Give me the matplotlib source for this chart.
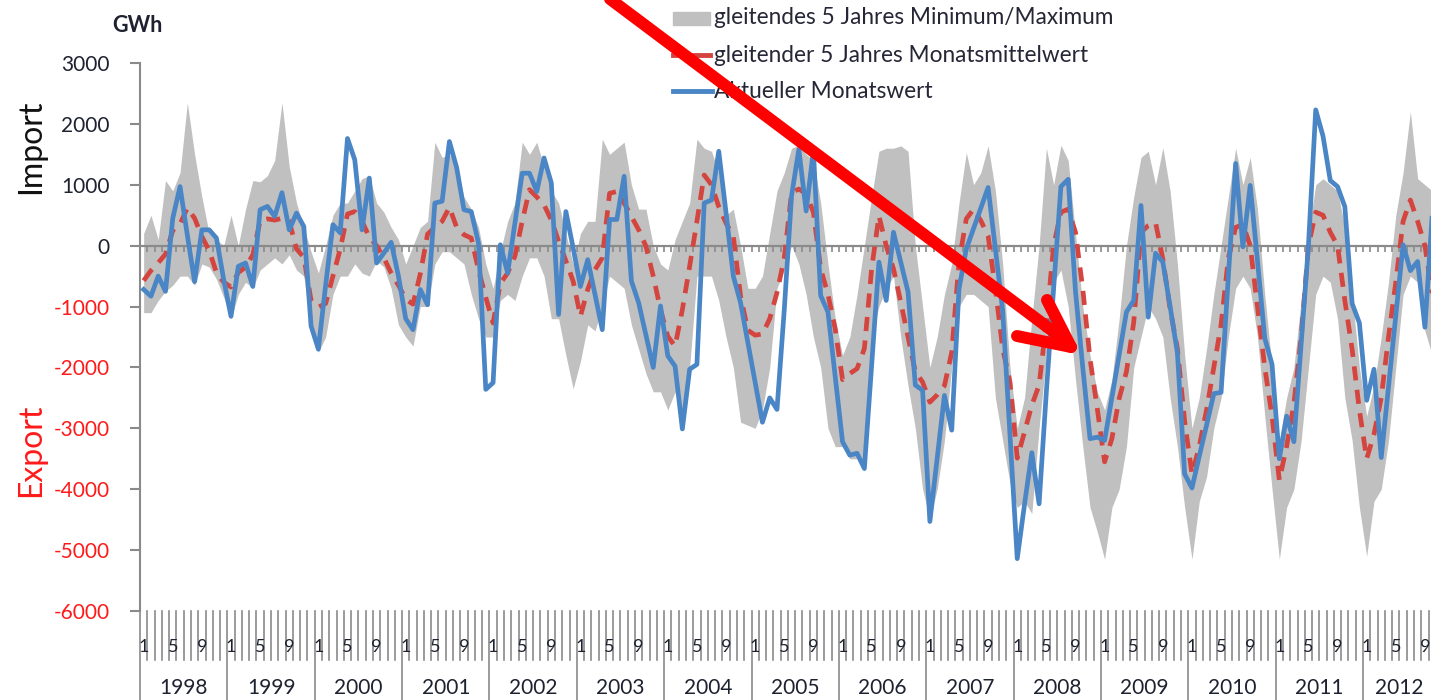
import numpy as np
import matplotlib
matplotlib.use("Agg")
from matplotlib import pyplot as plt
from matplotlib.lines import Line2D
from matplotlib.patches import Rectangle
from matplotlib import transforms

plt.rcParams['font.family'] = ['Lato', 'DejaVu Sans']

# monthly values, GWh, Jan 1998 .. Oct 2012
actual = [-720, -830, -500, -750, 450, 970, 175, -590, 260, 260, 125, -560,
          -1160, -340, -285, -670, 590, 645, 480, 870, 260, 535, 315, -1320,
          -1700, -650, 345, 210, 1760, 1410, 260, 1110, -285, -120, 55, -500,
          -1200, -1380, -720, -970, 700, 730, 1710, 1280, 590, 560, 40, -2360,
          -2250, 15, -450, 370, 1190, 1190, 890, 1440, 1030, -1130, 560, -40,
          -670, -230, -800, -1380, 430, 430, 1140, -580, -940, -1470, -2000, -990,
          -1810, -1980, -3010, -2030, -1950, 700, 750, 1550, 540, -500, -940, -1590,
          -2250, -2900, -2500, -2690, -1050, 820, 1580, 570, 1560, -820, -1090, -2150,
          -3220, -3440, -3410, -3660, -1960, -270, -900, 220, -270, -760, -2290, -2375,
          -4530, -3500, -2460, -3030, -710, -55, 280, 620, 955, -50, -1065, -3100,
          -5140, -4250, -3400, -4240, -2400, -700, 970, 1090, -750, -2000, -3170, -3145,
          -3200, -2500, -1800, -1090, -900, 660, -1175, -125, -270, -1000, -1760, -3750,
          -3980, -3460, -2950, -2430, -2410, -500, 1350, -20, 990, -250, -1520, -1950,
          -3500, -2800, -3220, -1600, 0, 2230, 1800, 1070, 970, 640, -950, -1270,
          -2540, -2030, -3480, -2320, -1160, 15, -410, -260, -1340, 500]

mean5 = [-575, -410, -280, -140, 250, 355, 620, 450, 150, -80, -440, -600,
         -680, -440, -355, -150, 410, 440, 420, 450, 400, -55, -190, -900,
         -1010, -950, -500, -60, 520, 560, 400, 140, 0, -200, -450, -650,
         -880, -960, -465, 190, 300, 400, 630, 300, 180, 125, -400, -850,
         -1270, -620, -450, -170, 400, 920, 800, 670, 420, 70, -250, -585,
         -1160, -720, -395, -200, 860, 890, 700, 480, 260, -10, -500, -1050,
         -1490, -1650, -1050, -340, 400, 1160, 1000, 640, 370, 150, -830, -1390,
         -1470, -1450, -1200, -770, -200, 870, 930, 850, 550, -380, -800, -1370,
         -2200, -2100, -2020, -1690, -380, 490, 0, -380, -930, -1500, -2070, -2240,
         -2570, -2450, -2300, -1750, -270, 440, 600, 410, 160, -710, -1690, -2240,
         -3490, -3060, -2620, -2290, -1260, 0, 550, 600, 220, -710, -1860, -2680,
         -3550, -3170, -2510, -2070, -1260, 220, 330, 380, -220, -1040, -1690, -2890,
         -3750, -3300, -2700, -2000, -1300, -200, 300, 350, 0, -1000, -2000, -2800,
         -3850, -3300, -2600, -1500, 0, 550, 500, 220, 0, -900, -1700, -2700,
         -3500, -3100, -2500, -1500, -600, 400, 750, 400, 0, -800]

min5 = [-1100, -1100, -900, -750, -650, -500, -500, -650, -300, -350, -550, -850,
        -1200, -800, -600, -700, -400, -300, -200, -300, -150, -400, -500, -1400,
        -1750, -1500, -800, -500, -500, -300, -450, -500, -250, -350, -700, -1300,
        -1500, -1650, -1000, -1000, -300, -100, -100, -200, -300, -800, -1200, -1500,
        -1500, -900, -800, -900, -500, -200, -200, -500, -1200, -1200, -1800, -2350,
        -1900, -1300, -1400, -1000, -500, -600, -700, -1300, -1700, -2100, -2400, -2400,
        -2700, -2400, -2900, -2000, -500, -500, -500, -900, -1500, -2000, -2900, -2950,
        -3000, -2700, -2000, -700, -400, 0, -300, -800, -1500, -2000, -3000, -3300,
        -3300, -3500, -3500, -3700, -1500, -1000, -700, -500, -1500, -2300, -3000, -4000,
        -4500, -4000, -3200, -2000, -1000, -800, -800, -900, -1000, -2500, -3200, -3900,
        -4300, -4200, -4400, -3000, -1800, -600, -400, -1000, -2200, -3300, -4300, -4700,
        -5150, -4300, -4000, -3300, -2000, -1500, -1000, -1200, -1500, -2500, -3300, -4300,
        -5150, -4200, -3800, -3000, -2500, -1500, -700, -500, -700, -1500, -2800, -4000,
        -5150, -4300, -4000, -3200, -2000, -800, -500, -600, -1200, -2500, -3200, -4300,
        -5100, -4200, -4000, -3200, -2000, -800, -500, -600, -1400, -1800]

max5 = [200, 500, 100, 1070, 900, 1200, 2350, 1500, 800, 200, 100, 0,
        500, 0, 600, 1070, 1050, 1150, 1400, 2350, 1300, 700, 300, -100,
        -450, 0, 500, 700, 700, 900, 1100, 1150, 700, 550, 300, 100,
        -300, 0, 300, 400, 1700, 1450, 1500, 1300, 800, 600, 300, -300,
        -700, -100, 400, 700, 1700, 1500, 1700, 1300, 900, 700, 200, -300,
        200, 400, 400, 1750, 1500, 1600, 1700, 1000, 600, 600, 0, -300,
        -400, 100, 400, 700, 1750, 1600, 1550, 1200, 500, 600, 0, -700,
        -700, -500, 200, 900, 1200, 1600, 1650, 1500, 1400, 700, -300, -1200,
        -1800, -1500, -800, 0, 800, 1550, 1600, 1600, 1640, 1550, 0, -1000,
        -2000, -1500, -800, -300, 700, 1530, 1000, 1200, 1640, 900, -300, -2000,
        -3000, -2500, -1200, 0, 1600, 1000, 1650, 1400, 200, -1000, -1800, -2400,
        -2700, -2200, -1200, 0, 800, 1450, 1550, 1000, 1610, 900, -300, -1800,
        -3000, -2500, -1700, -800, 0, 800, 1600, 1000, 1450, 600, -800, -2000,
        -3200, -2500, -2000, -900, 200, 1000, 1100, 1000, 900, 300, -800, -2000,
        -2800, -2300, -1500, -600, 500, 1200, 2200, 1100, 1000, 900]

years = list(range(1998, 2013))
monthLabels = {0: "1", 4: "5", 8: "9"}
yTicks = [3000, 2000, 1000, 0, -1000, -2000, -3000, -4000, -5000, -6000]

W, H = 1431, 700
fig = plt.figure(figsize=(W / 100, H / 100), dpi=100)
ax = fig.add_axes([140 / W, 89 / H, (W - 140) / W, 548 / H])

n = len(actual)
x = np.arange(n)
ax.fill_between(np.arange(len(min5)), min5, max5, color="#c0c0c0", lw=0, zorder=1)
ax.axhline(0, color="#8a8a8a", lw=1.6, zorder=2)
ax.vlines(np.arange(n + 1) - 0.5, -100, 0, color="#8a8a8a", lw=1.2, zorder=2)
ax.plot(np.arange(len(mean5)), mean5, color="#d4453f", lw=3.4, dashes=(3.0, 2.0), zorder=3)
ax.plot(x, actual, color="#4a86c6", lw=3.4, solid_joinstyle="round", zorder=4)

ax.set_xlim(-0.5, -0.5 + (W - 140) / 7.28)
ax.set_ylim(-6000, 3000)
ax.set_xticks([])
ax.set_yticks(yTicks)
ax.set_yticklabels([str(t) for t in yTicks])
for t, lab in zip(yTicks, ax.get_yticklabels()):
    lab.set_color("#ff1a1a" if t < 0 else "#1e2230")
ax.tick_params(axis="y", length=7, width=1.5, color="#8a8a8a", pad=15, labelsize=15)
for s in ["top", "right", "bottom"]:
    ax.spines[s].set_visible(False)
ax.spines["left"].set_color("#8a8a8a")
ax.spines["left"].set_linewidth(1.5)

# two-level category axis below the plot
trans = transforms.blended_transform_factory(ax.transData, ax.transAxes)
for k in range(n + 1):
    low = -0.1624 if k % 12 == 0 else -0.0894
    ax.plot([k - 0.5, k - 0.5], [0, low], color="#8a8a8a", lw=1.2, transform=trans, clip_on=False)
for i in range(n):
    if i % 12 in monthLabels:
        ax.text(i, -0.0657, monthLabels[i % 12], transform=trans, ha="center", va="center",
                fontsize=13, color="#1e2230")
for j, yr in enumerate(years):
    first = 12 * j
    last = min(12 * j + 11, n - 1)
    ax.text((first + last) / 2, -0.1405, str(yr), transform=trans, ha="center", va="center",
            fontsize=15, color="#1e2230")

fig.text(31 / W, 1 - 147 / H, "Import", rotation=90, ha="center", va="center", fontsize=23, color="#111111")
fig.text(31 / W, 1 - 450 / H, "Export", rotation=90, ha="center", va="center", fontsize=23, color="#ff1a1a")
fig.text(137 / W, 1 - 25 / H, "GWh", ha="center", va="center", fontsize=15.5, fontweight="bold", color="#1e2230")

# legend
fig.add_artist(Rectangle((673 / W, 1 - 25 / H), 37 / W, 13 / H, color="#c0c0c0", transform=fig.transFigure))
fig.add_artist(Line2D([673 / W, 710 / W], [1 - 55 / H] * 2, color="#d4453f", lw=3.5, transform=fig.transFigure))
fig.add_artist(Line2D([673 / W, 712 / W], [1 - 91 / H] * 2, color="#4a86c6", lw=3.5, transform=fig.transFigure))
legendTexts = ["gleitendes 5 Jahres Minimum/Maximum", "gleitender 5 Jahres Monatsmittelwert", "Aktueller Monatswert"]
for txt, yy in zip(legendTexts, [18, 55, 91]):
    fig.text(714 / W, 1 - yy / H, txt, ha="left", va="center", fontsize=16.3, color="#262636")

# red arrow
def px(xs, ys):
    return [v / W for v in xs], [1 - v / H for v in ys]

for xs, ys in [([598, 1062], [-10, 338]), ([1017, 1071], [336, 347]), ([1047, 1071], [300, 347])]:
    fx, fy = px(xs, ys)
    fig.add_artist(Line2D(fx, fy, color="#ff0000", lw=8.6, solid_capstyle="round", transform=fig.transFigure, zorder=10))

plt.savefig("out.png", dpi=100)
